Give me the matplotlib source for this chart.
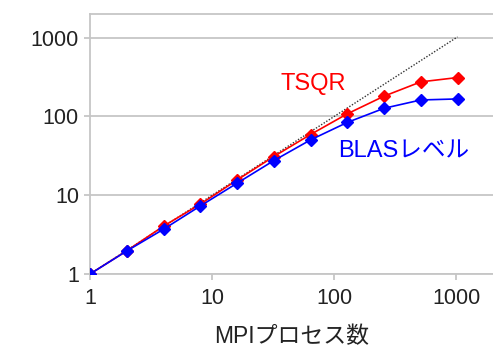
import numpy as np
import matplotlib.pyplot as plt

plt.rcParams['font.family'] = ['Liberation Sans', 'Noto Sans CJK JP', 'DejaVu Sans']

# MPI process counts and measured speedup
procs = [1, 2, 4, 8, 16, 32, 64, 128, 256, 512, 1024]
tsqr = [1, 1.97, 4.05, 7.7, 15.6, 31, 59, 108, 181, 275, 312]
blas = [1, 1.96, 3.7, 7.3, 14.2, 27.5, 50.4, 84, 127, 162, 167]
ideal = [1, 1024]

grid_c = '#c6c6c6'

fig = plt.figure(figsize=(4.93, 3.6), dpi=100)
ax = fig.add_axes([90/493, 1 - 274/360, 403/493, 260/360])

ax.plot(ideal, ideal, ls=(0, (1, 1.2)), color='#333333', lw=1.0, zorder=2)
ax.plot(procs, tsqr, color='#ff0000', lw=1.2, marker='D', ms=6.5, zorder=3)
ax.plot(procs, blas, color='#0000ff', lw=1.2, marker='D', ms=6.5, zorder=4)

ax.set_xscale('log')
ax.set_yscale('log')
ax.set_xlim(1, 2000)
ax.set_ylim(1, 2000)
ax.set_xticks([1, 10, 100, 1000])
ax.set_xticklabels(['1', '10', '100', '1000'])
ax.set_yticks([1, 10, 100, 1000])
ax.set_yticklabels(['1', '10', '100', '1000'])
ax.minorticks_off()

ax.grid(axis='y', color=grid_c, lw=1.3)
ax.set_axisbelow(True)
for s in ['left', 'bottom', 'top']:
    ax.spines[s].set_color(grid_c)
    ax.spines[s].set_linewidth(1.3)
ax.spines['right'].set_visible(False)
ax.tick_params(axis='both', color=grid_c, width=1.3, length=4,
               labelsize=15.5, labelcolor='#222222')
ax.tick_params(axis='y', pad=4)
ax.tick_params(axis='x', pad=6)

ax.set_xlabel('MPIプロセス数', fontsize=16.5, color='#222222', labelpad=12)

ax.text(0.553, 0.731, 'TSQR', color='#ff0000', fontsize=17,
        ha='center', va='center', transform=ax.transAxes)
ax.text(0.779, 0.473, 'BLASレベル', color='#0000ff', fontsize=17,
        ha='center', va='center', transform=ax.transAxes)

fig.savefig('out.png', dpi=100)
